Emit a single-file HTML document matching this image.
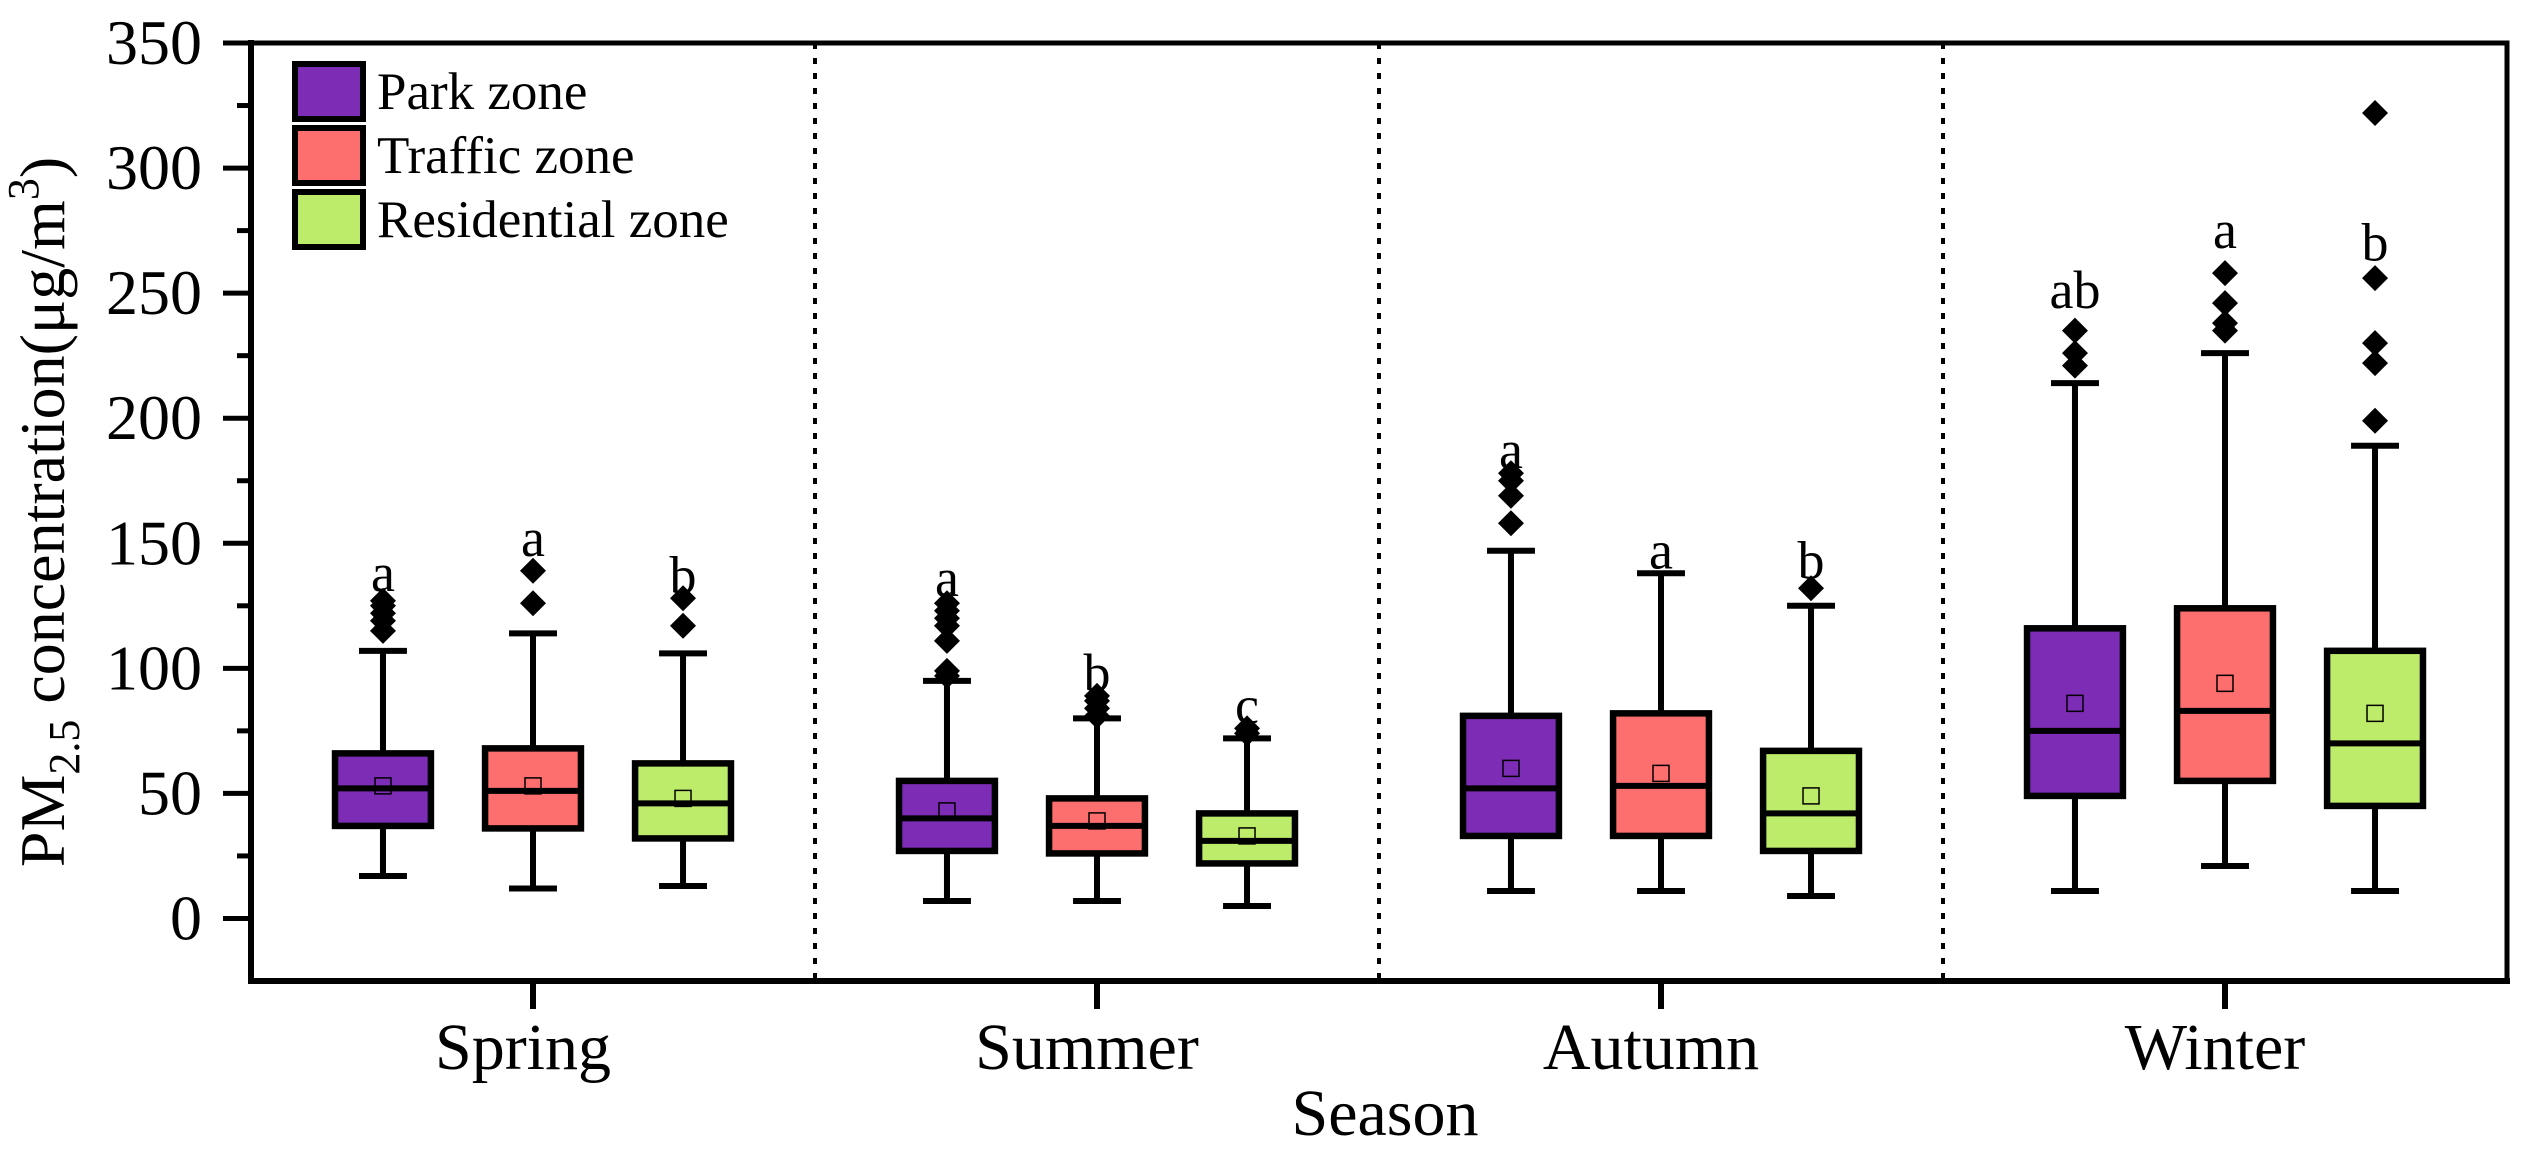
<!DOCTYPE html>
<html><head><meta charset="utf-8"><style>
html,body{margin:0;padding:0;background:#fff;}
svg{display:block;font-family:"Liberation Serif","Times New Roman","DejaVu Serif",serif;}
</style></head><body>
<svg id="chart" width="2530" height="1160" viewBox="0 0 2530 1160" xmlns="http://www.w3.org/2000/svg">
<g id="plot"></g>
<g id="axes"></g>
<g>
  <rect x="295" y="64" width="68" height="55" fill="#7D2CB6" stroke="#000" stroke-width="6"/>
  <text x="377" y="109" font-size="53">Park zone</text>
  <rect x="295" y="128" width="68" height="55" fill="#FC6F6E" stroke="#000" stroke-width="6"/>
  <text x="377" y="173" font-size="53">Traffic zone</text>
  <rect x="295" y="192" width="68" height="55" fill="#BDEC6B" stroke="#000" stroke-width="6"/>
  <text x="377" y="237" font-size="53">Residential zone</text>
</g>
</svg>
<script>
const seasons = ["Spring","Summer","Autumn","Winter"];
const zones = ["park","traffic","residential"];
const zoneColors = ["#7D2CB6","#FC6F6E","#BDEC6B"];
// per season, per zone
const q1 = [[37,36,32],[27,26,22],[33,33,27],[49,55,45]];
const median = [[52,51,46],[40,37,31],[52,53,42],[75,83,70]];
const q3 = [[66,68,62],[55,48,42],[81,82,67],[116,124,107]];
const whiskerLow = [[17,12,13],[7,7,5],[11,11,9],[11,21,11]];
const whiskerHigh = [[107,114,106],[95,80,72],[147,138,125],[214,226,189]];
const means = [[53,53,48],[43,39,33],[60,58,49],[86,94,82]];
const outliers = [
  [[115,119,122,125,127],[126,139],[117,128]],
  [[97,99,111,117,120,123,126],[81,84,87,89],[74,76]],
  [[158,169,175,178],[],[132]],
  [[221,226,235],[235,238,246,258],[199,222,230,256,322]]
];
const letters = [["a","a","b"],["a","b","c"],["a","a","b"],["ab","a","b"]];
const letterPos = [[131,145,130],[129,91,78],[180,140,136],[244,268,263]];
const yTicks = [0,50,100,150,200,250,300,350];

const NS="http://www.w3.org/2000/svg";
const L=251,R=2507,T=43,B=981;
const yMin=-25,yMax=350,xMin=0.5,xMax=4.5;
const ys=v=>B-(v-yMin)/(yMax-yMin)*(B-T);
const xs=v=>L+(v-xMin)/(xMax-xMin)*(R-L);
const OFF=0.266,BW=0.17,CAP=0.085;
function mk(tag,attrs,parent){const e=document.createElementNS(NS,tag);for(const k in attrs)e.setAttribute(k,attrs[k]);parent.appendChild(e);return e;}
const plot=document.getElementById('plot');
const axes=document.getElementById('axes');

for(let i=1;i<seasons.length;i++){
  const d=mk('line',{x1:xs(i+0.5),x2:xs(i+0.5),y1:T,y2:B,stroke:'#000','stroke-width':4,'stroke-dasharray':'6 9'},plot);
  
  
}

seasons.forEach((s,si)=>{
  zones.forEach((z,zi)=>{
    const cx=xs(si+1+(zi-1)*OFF);
    const hw=(xs(BW)-xs(0))/2, cw=(xs(CAP)-xs(0))/2;
    const g=mk('g',{},plot);
    
    
    mk('line',{x1:cx,x2:cx,y1:ys(whiskerLow[si][zi]),y2:ys(q1[si][zi]),stroke:'#000','stroke-width':6},g);
    mk('line',{x1:cx,x2:cx,y1:ys(whiskerHigh[si][zi]),y2:ys(q3[si][zi]),stroke:'#000','stroke-width':6},g);
    mk('line',{x1:cx-cw,x2:cx+cw,y1:ys(whiskerLow[si][zi]),y2:ys(whiskerLow[si][zi]),stroke:'#000','stroke-width':6},g);
    mk('line',{x1:cx-cw,x2:cx+cw,y1:ys(whiskerHigh[si][zi]),y2:ys(whiskerHigh[si][zi]),stroke:'#000','stroke-width':6},g);
    mk('rect',{x:cx-hw,y:ys(q3[si][zi]),width:2*hw,height:ys(q1[si][zi])-ys(q3[si][zi]),fill:zoneColors[zi],stroke:'#000','stroke-width':6.5},g);
    mk('line',{x1:cx-hw,x2:cx+hw,y1:ys(median[si][zi]),y2:ys(median[si][zi]),stroke:'#000','stroke-width':6},g);
    mk('rect',{x:cx-8,y:ys(means[si][zi])-8,width:16,height:16,fill:'none',stroke:'#000','stroke-width':1.5},g);
    outliers[si][zi].forEach(v=>{
      const y=ys(v);
      const p=mk('polygon',{points:`${cx},${y-13} ${cx+13},${y} ${cx},${y+13} ${cx-13},${y}`,fill:'#000'},g);
      
      
    });
    const t=mk('text',{x:cx,y:ys(letterPos[si][zi]),'font-size':54,'text-anchor':'middle'},g);
    t.textContent=letters[si][zi];
    
    
  });
});

mk('rect',{x:L,y:T,width:R-L,height:B-T,fill:'none',stroke:'#000','stroke-width':5},axes);
mk('line',{x1:L,x2:L,y1:T-3,y2:B+3,stroke:'#000','stroke-width':6},axes);
mk('line',{x1:L-3,x2:R+3,y1:B,y2:B,stroke:'#000','stroke-width':6},axes);
yTicks.forEach(v=>{
  mk('line',{x1:L-28,x2:L,y1:ys(v),y2:ys(v),stroke:'#000','stroke-width':5},axes);
  const t=mk('text',{x:202,y:ys(v)+21,'font-size':64,'text-anchor':'end'},axes);
  t.textContent=v;
  
  
  if(v<350) mk('line',{x1:L-14,x2:L,y1:ys(v+25),y2:ys(v+25),stroke:'#000','stroke-width':5},axes);
});
seasons.forEach((s,si)=>{
  mk('line',{x1:xs(si+1),x2:xs(si+1),y1:B,y2:B+28,stroke:'#000','stroke-width':6},axes);
  const t=mk('text',{x:xs(si+1)-10,y:1069,'font-size':66,'text-anchor':'middle'},axes);
  t.textContent=s;
  
  
});
const xt=mk('text',{x:1385,y:1135,'font-size':66,'text-anchor':'middle'},axes);
xt.textContent='Season';


const yt=mk('text',{x:0,y:0,'font-size':64,'text-anchor':'middle',transform:'translate(64,512) rotate(-90)'},axes);
yt.innerHTML='PM<tspan font-size="44" dy="15">2.5</tspan><tspan dy="-15"> concentration(μg/m</tspan><tspan font-size="44" dy="-26">3</tspan><tspan dy="26">)</tspan>';


</script>
</body></html>
